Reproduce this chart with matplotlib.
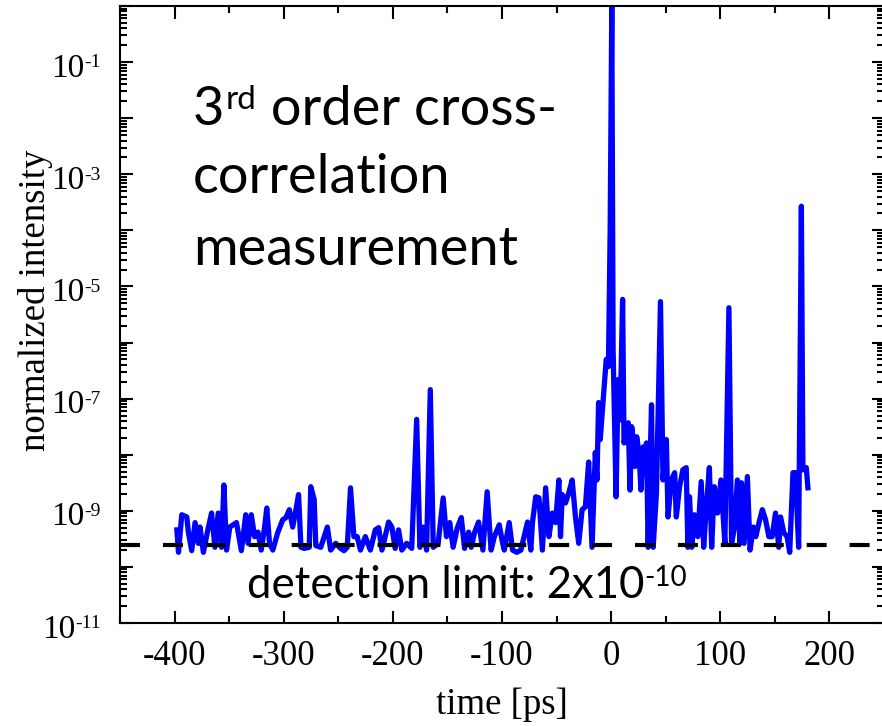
import numpy as np
import matplotlib
matplotlib.use("Agg")
import matplotlib.pyplot as plt
from matplotlib.ticker import MultipleLocator, LogLocator, NullFormatter
from matplotlib.transforms import blended_transform_factory

# trace: time in ps, log10 of normalized intensity
time_ps = [
    -397.9, -396.4, -393.4, -388.8, -387.3, -384.3, -381.2, -378.2, -376.7, -373.6,
    -369.1, -366.1, -363.0, -360.0, -357.0, -354.8, -352.4, -349.4, -346.4, -343.3,
    -338.8, -334.8, -332.7, -329.7, -326.7, -323.6, -320.6, -317.5, -315.5, -313.0,
    -310.0, -305.5, -300.9, -297.9, -294.8, -291.8, -288.8, -286.4, -284.2, -281.2,
    -276.6, -275.2, -272.1, -270.6, -266.1, -260.0, -257.0, -252.4, -247.9, -244.8,
    -241.8, -238.8, -235.7, -232.7, -229.7, -225.2, -220.6, -216.1, -213.0, -210.0,
    -203.9, -200.9, -197.9, -194.8, -191.8, -187.3, -182.7, -178.2, -175.2, -172.1,
    -169.1, -165.7, -163.0, -158.5, -153.9, -150.9, -147.9, -144.8, -140.9, -137.3,
    -134.3, -130.6, -128.2, -125.2, -121.5, -117.5, -113.6, -110.0, -107.0, -102.5,
    -99.4, -97.9, -93.4, -90.3, -86.5, -82.7, -76.6, -73.6, -72.1, -69.1,
    -66.1, -63.0, -60.0, -57.0, -53.9, -50.9, -47.9, -46.4, -44.8, -41.8,
    -38.8, -35.7, -32.7, -29.7, -26.6, -23.6, -20.6, -17.5, -14.5, -13.0,
    -11.5, -10.0, -7.0, -4.5, -2.5, -0.9, 0.6, 1.8, 4.5, 6.4,
    8.2, 10.5, 11.8, 15.7, 17.3, 18.8, 20.3, 21.8, 23.4, 25.5,
    27.3, 29.4, 30.9, 32.4, 33.9, 35.5, 37.0, 38.5, 41.5, 45.2,
    47.5, 50.6, 52.1, 55.2, 58.2, 59.7, 62.7, 65.7, 68.8, 70.3,
    71.8, 73.9, 76.4, 79.4, 82.5, 84.8, 87.0, 90.0, 92.1, 94.5,
    97.5, 100.6, 104.2, 107.9, 110.3, 112.7, 115.7, 118.2, 119.4, 121.8,
    124.8, 127.3, 130.3, 132.5, 135.5, 138.5, 141.5, 144.5, 147.5, 150.6,
    153.6, 155.2, 158.2, 161.2, 163.6, 166.6, 168.8, 171.8, 174.3, 175.7,
    178.8, 180.3,
]
log10_intensity = [
    -9.34, -9.74, -9.07, -9.11, -9.39, -9.71, -9.21, -9.58, -9.29, -9.74,
    -9.30, -9.04, -9.65, -9.04, -9.65, -8.54, -9.70, -9.29, -9.25, -9.21,
    -9.71, -9.07, -9.58, -9.07, -9.46, -9.38, -9.70, -9.29, -8.95, -9.58,
    -9.70, -9.39, -9.16, -9.12, -8.98, -9.29, -8.98, -8.71, -9.65, -9.67,
    -9.65, -8.57, -8.80, -9.62, -9.65, -9.29, -9.70, -9.58, -9.67, -9.71,
    -9.65, -8.59, -9.46, -9.46, -9.70, -9.46, -9.70, -9.34, -9.30, -9.70,
    -9.20, -9.29, -9.67, -9.34, -9.70, -9.58, -9.67, -7.37, -9.65, -9.29,
    -9.70, -6.84, -9.65, -9.58, -8.77, -9.46, -9.21, -9.65, -9.30, -9.12,
    -9.67, -9.38, -9.65, -9.39, -9.20, -9.70, -8.66, -9.70, -9.46, -9.25,
    -9.58, -9.70, -9.21, -9.70, -9.74, -9.70, -9.20, -9.70, -9.21, -8.75,
    -8.77, -9.70, -8.59, -9.46, -9.04, -9.21, -8.45, -9.46, -8.71, -8.86,
    -8.68, -8.45, -9.11, -9.58, -8.98, -8.93, -8.13, -9.65, -7.96, -8.45,
    -7.07, -7.73, -6.96, -6.30, -6.43, -4.00, 0.00, -6.13, -8.75, -6.66,
    -7.38, -5.23, -7.79, -7.43, -8.63, -7.50, -7.73, -8.21, -7.68, -7.96,
    -8.63, -7.86, -8.09, -7.79, -9.65, -8.27, -7.11, -9.65, -8.68, -5.27,
    -8.45, -7.73, -9.11, -8.45, -8.32, -9.11, -8.57, -8.27, -8.23, -9.65,
    -8.75, -9.65, -9.07, -9.46, -8.48, -9.65, -8.98, -8.23, -9.65, -8.57,
    -9.04, -8.45, -9.58, -5.38, -9.58, -9.34, -8.45, -9.58, -8.50, -9.58,
    -8.39, -9.70, -9.29, -9.46, -9.21, -8.98, -9.16, -9.46, -9.46, -9.04,
    -9.65, -9.11, -9.39, -9.46, -9.74, -8.32, -8.32, -9.65, -3.57, -8.27,
    -8.23, -8.59,
]
detection_limit = 2.5e-10
labelled_exponents = [-11, -9, -7, -5, -3, -1]

plt.rcParams["font.family"] = "Liberation Serif"
plt.rcParams["axes.unicode_minus"] = False

fig = plt.figure(figsize=(8.82, 7.26), dpi=100)
ax = fig.add_axes([120/882, 103/726, 764/882, 617/726])

intensity = 10.0 ** np.array(log10_intensity)
ax.semilogy(time_ps, intensity, color="#0000ff", lw=3.8, solid_joinstyle="round")
ax.axhline(detection_limit, color="k", lw=3, dashes=(4.8, 5.5))

ax.set_xlim(-450, 250)
ax.set_ylim(1e-11, 1)
ax.xaxis.set_major_locator(MultipleLocator(100))
ax.xaxis.set_minor_locator(MultipleLocator(50))
ax.yaxis.set_major_locator(LogLocator(base=10, numticks=30))
ax.yaxis.set_minor_locator(LogLocator(base=10, subs=np.arange(2, 10), numticks=30))
ax.yaxis.set_major_formatter(NullFormatter())
ax.yaxis.set_minor_formatter(NullFormatter())

ax.tick_params(which="both", direction="in", top=True, right=True, width=1.5)
ax.tick_params(which="major", length=9, labelsize=25)
ax.tick_params(which="minor", length=5)
ax.tick_params(axis="x", pad=12)
for s in ax.spines.values():
    s.set_linewidth(1.5)

# y tick labels "10" with a small hyphen superscript, as in the original
ytr = blended_transform_factory(ax.transAxes, ax.transData)
for e in labelled_exponents:
    sup = ax.annotate(str(e), xy=(-0.025, 10.0 ** e), xycoords=ytr,
                      xytext=(0, 5.5), textcoords="offset points",
                      ha="right", va="top", fontsize=14, annotation_clip=False)
    ax.annotate("10", xy=(0, 10.0 ** e), xycoords=(sup, ytr),
                xytext=(0, -10.5), textcoords="offset points",
                ha="right", va="baseline", fontsize=24, annotation_clip=False)

ax.set_xlabel("time [ps]", fontsize=26.5, labelpad=11)
ax.set_ylabel("normalized intensity", fontsize=26.5)
ax.yaxis.set_label_coords(-0.111, 0.523)
ax.yaxis.label.set_va("center")

tf = dict(family="Lato", color="k")
t3 = ax.text(0.0955, 0.807, "3", transform=ax.transAxes, va="baseline", fontsize=39, **tf)
rd = ax.annotate("rd", xy=(1.05, 1.0), xycoords=t3, va="top", ha="left", fontsize=24, **tf)
ax.annotate(" order cross-", xy=(1, 0), xycoords=(rd, t3), va="bottom", ha="left",
            fontsize=39, **tf)
ax.text(0.0955, 0.697, "correlation", transform=ax.transAxes, va="baseline", fontsize=39, **tf)
ax.text(0.0955, 0.580, "measurement", transform=ax.transAxes, va="baseline", fontsize=39, **tf)

det = ax.text(0.166, 0.0405, "detection limit: 2x10", transform=ax.transAxes,
              va="baseline", fontsize=31.5, **tf)
ax.annotate("-10", xy=(1.0, 1.0), xycoords=det, va="top", ha="left", fontsize=20, **tf)

fig.savefig("out.png", dpi=100)
